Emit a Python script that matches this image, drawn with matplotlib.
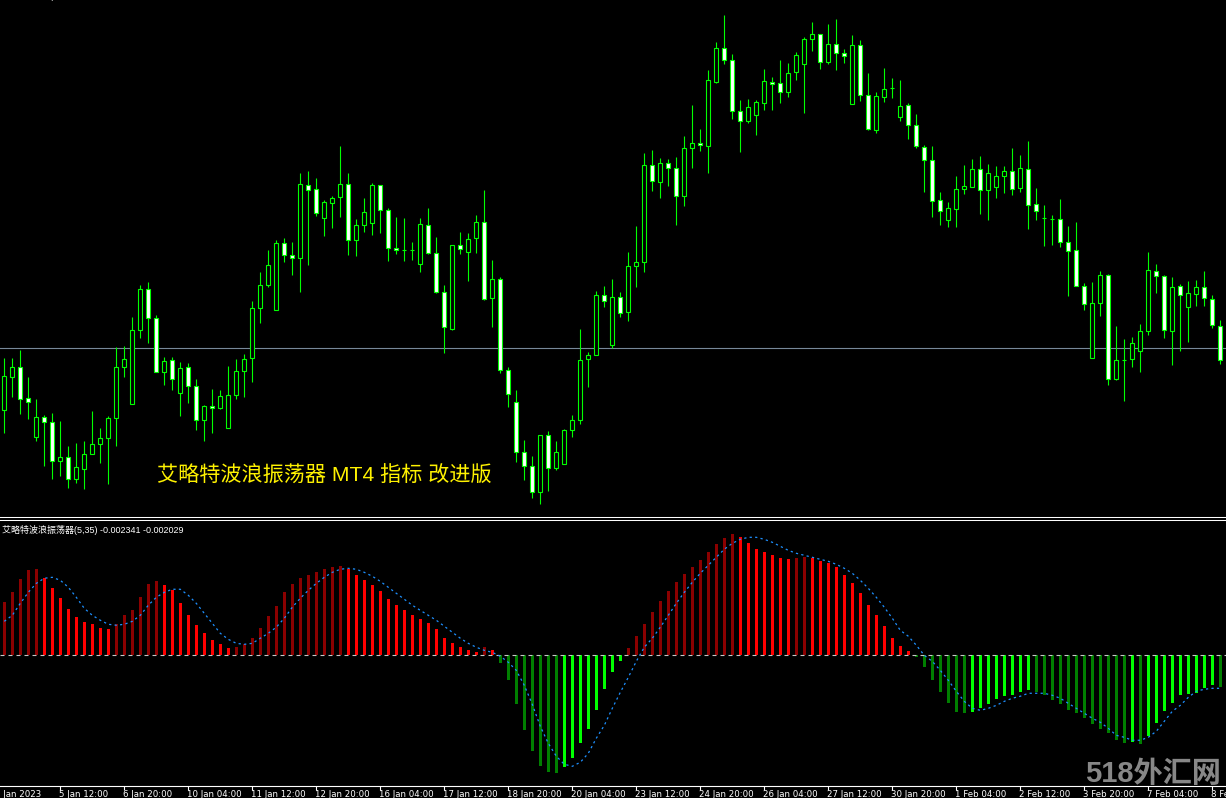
import numpy as np
import matplotlib
matplotlib.use("Agg")
import matplotlib.pyplot as plt
from matplotlib.patches import Rectangle
from matplotlib.lines import Line2D

# ---- price data (H4 candles) ----
opens = [1.0590, 1.0623, 1.0633, 1.0602, 1.0563, 1.0583, 1.0578, 1.0539, 1.0543, 1.0521,
         1.0531, 1.0546, 1.0556, 1.0562, 1.0582, 1.0633, 1.0596, 1.0670, 1.0711, 1.0682,
         1.0628, 1.0640, 1.0607, 1.0633, 1.0614, 1.0580, 1.0594, 1.0592, 1.0572, 1.0605,
         1.0629, 1.0642, 1.0692, 1.0715, 1.0690, 1.0757, 1.0745, 1.0742, 1.0815, 1.0811,
         1.0782, 1.0797, 1.0803, 1.0816, 1.0760, 1.0775, 1.0777, 1.0815, 1.0790, 1.0752,
         1.0750, 1.0750, 1.0736, 1.0775, 1.0747, 1.0708, 1.0671, 1.0755, 1.0748, 1.0762,
         1.0778, 1.0702, 1.0721, 1.0630, 1.0598, 1.0548, 1.0534, 1.0508, 1.0565, 1.0532,
         1.0536, 1.0570, 1.0580, 1.0641, 1.0645, 1.0705, 1.0655, 1.0703, 1.0688, 1.0734,
         1.0738, 1.0835, 1.0818, 1.0837, 1.0832, 1.0804, 1.0852, 1.0857, 1.0854, 1.0918,
         1.0952, 1.0940, 1.0889, 1.0879, 1.0885, 1.0897, 1.0918, 1.0917, 1.0908, 1.0928,
         1.0936, 1.0961, 1.0966, 1.0938, 1.0956, 1.0947, 1.0896, 1.0955, 1.0905, 1.0870,
         1.0903, 1.0912, 1.0883, 1.0895, 1.0875, 1.0853, 1.0840, 1.0800, 1.0780, 1.0791,
         1.0811, 1.0813, 1.0831, 1.0810, 1.0813, 1.0824, 1.0829, 1.0812, 1.0831, 1.0796,
         1.0782, 1.0781, 1.0781, 1.0758, 1.0750, 1.0714, 1.0642, 1.0697, 1.0725, 1.0621,
         1.0640, 1.0641, 1.0649, 1.0669, 1.0729, 1.0724, 1.0669, 1.0714, 1.0693, 1.0706,
         1.0713, 1.0701, 1.0674]
highs = [1.0642, 1.0642, 1.0650, 1.0623, 1.0601, 1.0585, 1.0587, 1.0579, 1.0554, 1.0557,
         1.0559, 1.0589, 1.0572, 1.0584, 1.0653, 1.0654, 1.0683, 1.0715, 1.0718, 1.0685,
         1.0643, 1.0643, 1.0638, 1.0637, 1.0621, 1.0595, 1.0611, 1.0610, 1.0634, 1.0641,
         1.0646, 1.0699, 1.0728, 1.0750, 1.0760, 1.0762, 1.0758, 1.0827, 1.0829, 1.0822,
         1.0800, 1.0804, 1.0854, 1.0827, 1.0781, 1.0802, 1.0817, 1.0815, 1.0792, 1.0783,
         1.0782, 1.0758, 1.0782, 1.0792, 1.0763, 1.0715, 1.0755, 1.0768, 1.0767, 1.0785,
         1.0810, 1.0740, 1.0723, 1.0633, 1.0610, 1.0560, 1.0544, 1.0565, 1.0569, 1.0559,
         1.0571, 1.0585, 1.0671, 1.0648, 1.0709, 1.0714, 1.0721, 1.0708, 1.0748, 1.0774,
         1.0847, 1.0850, 1.0842, 1.0841, 1.0843, 1.0864, 1.0895, 1.0871, 1.0930, 1.0958,
         1.0985, 1.0946, 1.0900, 1.0901, 1.0900, 1.0931, 1.0923, 1.0940, 1.0937, 1.0948,
         1.0963, 1.0978, 1.0966, 1.0976, 1.0981, 1.0951, 1.0965, 1.0960, 1.0927, 1.0908,
         1.0932, 1.0922, 1.0920, 1.0897, 1.0886, 1.0855, 1.0854, 1.0808, 1.0798, 1.0824,
         1.0835, 1.0841, 1.0844, 1.0836, 1.0834, 1.0834, 1.0852, 1.0845, 1.0859, 1.0812,
         1.0795, 1.0785, 1.0801, 1.0774, 1.0778, 1.0717, 1.0718, 1.0729, 1.0726, 1.0674,
         1.0661, 1.0663, 1.0676, 1.0748, 1.0736, 1.0725, 1.0723, 1.0716, 1.0719, 1.0720,
         1.0729, 1.0705, 1.0680]
lows = [1.0567, 1.0603, 1.0586, 1.0581, 1.0559, 1.0534, 1.0521, 1.0524, 1.0512, 1.0517,
        1.0511, 1.0546, 1.0537, 1.0516, 1.0554, 1.0623, 1.0596, 1.0662, 1.0657, 1.0628,
        1.0615, 1.0610, 1.0584, 1.0597, 1.0570, 1.0559, 1.0567, 1.0591, 1.0572, 1.0601,
        1.0603, 1.0618, 1.0677, 1.0713, 1.0690, 1.0738, 1.0725, 1.0708, 1.0735, 1.0784,
        1.0764, 1.0772, 1.0783, 1.0745, 1.0744, 1.0768, 1.0765, 1.0767, 1.0739, 1.0746,
        1.0739, 1.0740, 1.0728, 1.0746, 1.0707, 1.0647, 1.0670, 1.0746, 1.0719, 1.0747,
        1.0700, 1.0673, 1.0627, 1.0593, 1.0538, 1.0520, 1.0502, 1.0496, 1.0509, 1.0530,
        1.0536, 1.0563, 1.0576, 1.0613, 1.0645, 1.0693, 1.0652, 1.0683, 1.0679, 1.0713,
        1.0728, 1.0809, 1.0802, 1.0814, 1.0775, 1.0794, 1.0832, 1.0849, 1.0827, 1.0917,
        1.0936, 1.0881, 1.0848, 1.0877, 1.0865, 1.0890, 1.0890, 1.0897, 1.0903, 1.0920,
        1.0887, 1.0949, 1.0931, 1.0936, 1.0930, 1.0937, 1.0896, 1.0899, 1.0870, 1.0867,
        1.0898, 1.0902, 1.0879, 1.0861, 1.0852, 1.0808, 1.0783, 1.0775, 1.0773, 1.0773,
        1.0806, 1.0813, 1.0786, 1.0780, 1.0802, 1.0807, 1.0805, 1.0808, 1.0771, 1.0780,
        1.0754, 1.0755, 1.0753, 1.0704, 1.0714, 1.0690, 1.0642, 1.0684, 1.0615, 1.0620,
        1.0599, 1.0633, 1.0628, 1.0665, 1.0707, 1.0662, 1.0635, 1.0649, 1.0658, 1.0694,
        1.0694, 1.0672, 1.0636]
closes = [1.0624, 1.0633, 1.0601, 1.0598, 1.0583, 1.0578, 1.0539, 1.0543, 1.0521, 1.0533,
          1.0546, 1.0556, 1.0562, 1.0582, 1.0633, 1.0641, 1.0670, 1.0711, 1.0682, 1.0628,
          1.0639, 1.0621, 1.0632, 1.0614, 1.0580, 1.0594, 1.0592, 1.0604, 1.0605, 1.0629,
          1.0641, 1.0692, 1.0715, 1.0735, 1.0757, 1.0745, 1.0742, 1.0816, 1.0810, 1.0787,
          1.0798, 1.0802, 1.0816, 1.0760, 1.0775, 1.0788, 1.0815, 1.0790, 1.0752, 1.0750,
          1.0750, 1.0750, 1.0776, 1.0747, 1.0708, 1.0673, 1.0755, 1.0751, 1.0761, 1.0778,
          1.0701, 1.0721, 1.0630, 1.0606, 1.0548, 1.0534, 1.0508, 1.0565, 1.0532, 1.0548,
          1.0570, 1.0580, 1.0640, 1.0645, 1.0705, 1.0699, 1.0703, 1.0687, 1.0734, 1.0738,
          1.0835, 1.0819, 1.0837, 1.0832, 1.0804, 1.0852, 1.0857, 1.0855, 1.0920, 1.0952,
          1.0940, 1.0889, 1.0879, 1.0893, 1.0898, 1.0919, 1.0916, 1.0908, 1.0927, 1.0945,
          1.0961, 1.0966, 1.0938, 1.0956, 1.0947, 1.0944, 1.0955, 1.0905, 1.0871, 1.0904,
          1.0911, 1.0912, 1.0894, 1.0875, 1.0854, 1.0840, 1.0799, 1.0789, 1.0792, 1.0811,
          1.0814, 1.0831, 1.0810, 1.0827, 1.0824, 1.0829, 1.0811, 1.0832, 1.0795, 1.0789,
          1.0782, 1.0781, 1.0758, 1.0749, 1.0714, 1.0696, 1.0697, 1.0725, 1.0621, 1.0640,
          1.0640, 1.0657, 1.0669, 1.0730, 1.0724, 1.0670, 1.0713, 1.0705, 1.0707, 1.0713,
          1.0702, 1.0675, 1.0640]
bid_price = 1.0652

# ---- Elliott wave oscillator (5,35) histogram + signal ----
ewo = [0.00395, 0.00469, 0.00566, 0.00633, 0.00641, 0.00574, 0.00499, 0.00425, 0.00343, 0.00283,
       0.00246, 0.00231, 0.00201, 0.00194, 0.00231, 0.00298, 0.00335, 0.00432, 0.00529, 0.00551,
       0.00522, 0.00484, 0.00387, 0.00298, 0.00224, 0.00164, 0.00112, 0.00082, 0.00052, 0.00060,
       0.00082, 0.00127, 0.00201, 0.00291, 0.00365, 0.00469, 0.00529, 0.00574, 0.00596, 0.00618,
       0.00641, 0.00656, 0.00663, 0.00641, 0.00596, 0.00559, 0.00522, 0.00477, 0.00417, 0.00373,
       0.00335, 0.00298, 0.00268, 0.00238, 0.00194, 0.00127, 0.00089, 0.00060, 0.00037, 0.00022,
       0.00060, 0.00037, -0.00060, -0.00186, -0.00365, -0.00559, -0.00715, -0.00827, -0.00872, -0.00879,
       -0.00834, -0.00767, -0.00656, -0.00551, -0.00410, -0.00253, -0.00127, -0.00045, 0.00052, 0.00142,
       0.00231, 0.00320, 0.00402, 0.00477, 0.00544, 0.00603, 0.00656, 0.00708, 0.00767, 0.00827,
       0.00872, 0.00901, 0.00879, 0.00834, 0.00790, 0.00767, 0.00745, 0.00723, 0.00715, 0.00723,
       0.00730, 0.00723, 0.00700, 0.00685, 0.00656, 0.00596, 0.00536, 0.00462, 0.00373, 0.00298,
       0.00216, 0.00127, 0.00067, 0.00030, -0.00015, -0.00089, -0.00186, -0.00276, -0.00358, -0.00425,
       -0.00432, -0.00425, -0.00395, -0.00365, -0.00328, -0.00305, -0.00298, -0.00276, -0.00261, -0.00276,
       -0.00298, -0.00335, -0.00365, -0.00410, -0.00432, -0.00469, -0.00514, -0.00551, -0.00581, -0.00633,
       -0.00656, -0.00648, -0.00663, -0.00603, -0.00507, -0.00417, -0.00358, -0.00298, -0.00291, -0.00283,
       -0.00246, -0.00224, -0.002341]
signal = [0.00253, 0.00298, 0.00387, 0.00469, 0.00536, 0.00574, 0.00581, 0.00559, 0.00507, 0.00432,
          0.00350, 0.00298, 0.00261, 0.00231, 0.00224, 0.00231, 0.00253, 0.00298, 0.00373, 0.00432,
          0.00469, 0.00492, 0.00492, 0.00447, 0.00387, 0.00313, 0.00238, 0.00164, 0.00119, 0.00089,
          0.00082, 0.00089, 0.00127, 0.00164, 0.00209, 0.00276, 0.00358, 0.00425, 0.00484, 0.00536,
          0.00581, 0.00618, 0.00641, 0.00648, 0.00641, 0.00618, 0.00589, 0.00551, 0.00507, 0.00462,
          0.00417, 0.00373, 0.00335, 0.00298, 0.00261, 0.00216, 0.00171, 0.00127, 0.00089, 0.00060,
          0.00037, 0.00022, -0.00007, -0.00052, -0.00112, -0.00224, -0.00365, -0.00529, -0.00656, -0.00752,
          -0.00812, -0.00827, -0.00797, -0.00730, -0.00618, -0.00522, -0.00395, -0.00276, -0.00164, -0.00045,
          0.00060, 0.00127, 0.00209, 0.00298, 0.00387, 0.00469, 0.00544, 0.00611, 0.00671, 0.00730,
          0.00790, 0.00834, 0.00864, 0.00879, 0.00879, 0.00864, 0.00842, 0.00812, 0.00782, 0.00760,
          0.00745, 0.00730, 0.00715, 0.00700, 0.00678, 0.00648, 0.00611, 0.00559, 0.00499, 0.00432,
          0.00358, 0.00276, 0.00186, 0.00142, 0.00075, 0.00000, -0.00045, -0.00112, -0.00186, -0.00268,
          -0.00343, -0.00395, -0.00410, -0.00395, -0.00373, -0.00343, -0.00320, -0.00305, -0.00283, -0.00283,
          -0.00283, -0.00298, -0.00320, -0.00358, -0.00395, -0.00432, -0.00469, -0.00499, -0.00544, -0.00596,
          -0.00611, -0.00633, -0.00633, -0.00611, -0.00566, -0.00492, -0.00417, -0.00373, -0.00313, -0.00268,
          -0.00253, -0.00246, -0.00246]

# time axis labels (every 8 bars)
tick_bars = [-1, 7, 15, 23, 31, 39, 47, 55, 63, 71, 79, 87, 95, 103, 111, 119, 127, 135, 143, 151]
tick_labels = ["4 Jan 2023", "5 Jan 12:00", "6 Jan 20:00", "10 Jan 04:00", "11 Jan 12:00",
               "12 Jan 20:00", "16 Jan 04:00", "17 Jan 12:00", "18 Jan 20:00", "20 Jan 04:00",
               "23 Jan 12:00", "24 Jan 20:00", "26 Jan 04:00", "27 Jan 12:00", "30 Jan 20:00",
               "1 Feb 04:00", "2 Feb 12:00", "3 Feb 20:00", "7 Feb 04:00", "8 Feb 12:00"]

cjk = ['Liberation Sans', 'Noto Sans CJK SC', 'DejaVu Sans']
W, H = 1226, 798
LIME = '#00FF00'

fig = plt.figure(figsize=(W / 100, H / 100), dpi=100, facecolor='black')

def px_box(top, bottom):
    # axes rect spanning the full width between two pixel rows
    return [0, 1 - bottom / H, 1, (bottom - top) / H]

xlim = (-4.3 / 8, (W - 4.3) / 8)

# ---- main price window ----
ax = fig.add_axes(px_box(0, 517), facecolor='black')
ax.set_xlim(*xlim)
ax.set_ylim(1.0483, 1.1000)
ax.axis('off')

ax.axhline(bid_price, color='#778899', lw=0.8, zorder=1)

bw = 0.5
for i in range(len(opens)):
    o, hi, lo, c = opens[i], highs[i], lows[i], closes[i]
    ax.vlines(i, lo, hi, color=LIME, lw=0.8, zorder=2)
    fill = 'white' if c < o else 'black'
    ax.add_patch(Rectangle((i - bw / 2, min(o, c)), bw, abs(c - o),
                           facecolor=fill, edgecolor=LIME, lw=0.8, zorder=3))

fig.text(157 / W, 1 - 476 / H, '艾略特波浪振荡器 MT4 指标 改进版', color='#FFF200',
         fontsize=15.2, family=cjk, ha='left', va='center')

# separator lines between windows
for yy in (516.5, 519.5):
    fig.add_artist(Line2D([0, 1], [1 - yy / H, 1 - yy / H], color='white', lw=0.75))

# ---- oscillator window ----
ax2 = fig.add_axes(px_box(521, 786), facecolor='black')
ax2.set_xlim(*xlim)
ax2.set_ylim(-(786 - 655.3) * 0.0000745, (655.3 - 521) * 0.0000745)

idx = np.arange(len(ewo))
cols = []
for i, v in enumerate(ewo):
    prev = ewo[i - 1] if i > 0 else v
    if v >= 0:
        cols.append('#8B0000' if v >= prev else '#FF0000')
    else:
        cols.append('#007F00' if v < prev else '#00FF00')
ax2.bar(idx, ewo, width=0.36, color=cols, linewidth=0, zorder=2)
ax2.axhline(0, color='#C8C8C8', lw=0.8, ls=(0, (3.6, 3.6)), zorder=3)
ax2.plot(idx, signal, color='#1E90FF', lw=0.9, ls=(0, (1.8, 2.6)), zorder=4)

for s in ('top', 'left', 'right'):
    ax2.spines[s].set_visible(False)
ax2.spines['bottom'].set_color('white')
ax2.spines['bottom'].set_linewidth(0.8)
ax2.set_yticks([])
ax2.set_xticks([b for b in tick_bars if b >= 0])
ax2.set_xticklabels([])
ax2.tick_params(axis='x', colors='white', length=3, width=0.8, direction='out')
for b, lab in zip(tick_bars, tick_labels):
    ax2.annotate(lab, xy=(b, 0), xycoords=('data', 'axes fraction'), xytext=(-1, -4),
                 textcoords='offset pixels', ha='left', va='top', color='white',
                 fontsize=6.2, annotation_clip=False)

fig.text(2 / W, 1 - 530 / H, '艾略特波浪振荡器(5,35) -0.002341 -0.002029', color='white',
         fontsize=6.5, family=cjk, ha='left', va='center')

# cut-off header of the price window and the site watermark
fig.text(10 / W, 1 - 2 / H, 'EURUSD,H4  1.06740 1.06802 1.06362 1.06402', color='white',
         fontsize=7, ha='left', va='bottom')
fig.text(1221 / W, 1 - 760 / H, '518外汇网', color='#a0a0a0', fontsize=21,
         fontweight='bold', family=cjk, ha='right', va='top', alpha=0.85)

fig.savefig('out.png', dpi=100, facecolor='black')
